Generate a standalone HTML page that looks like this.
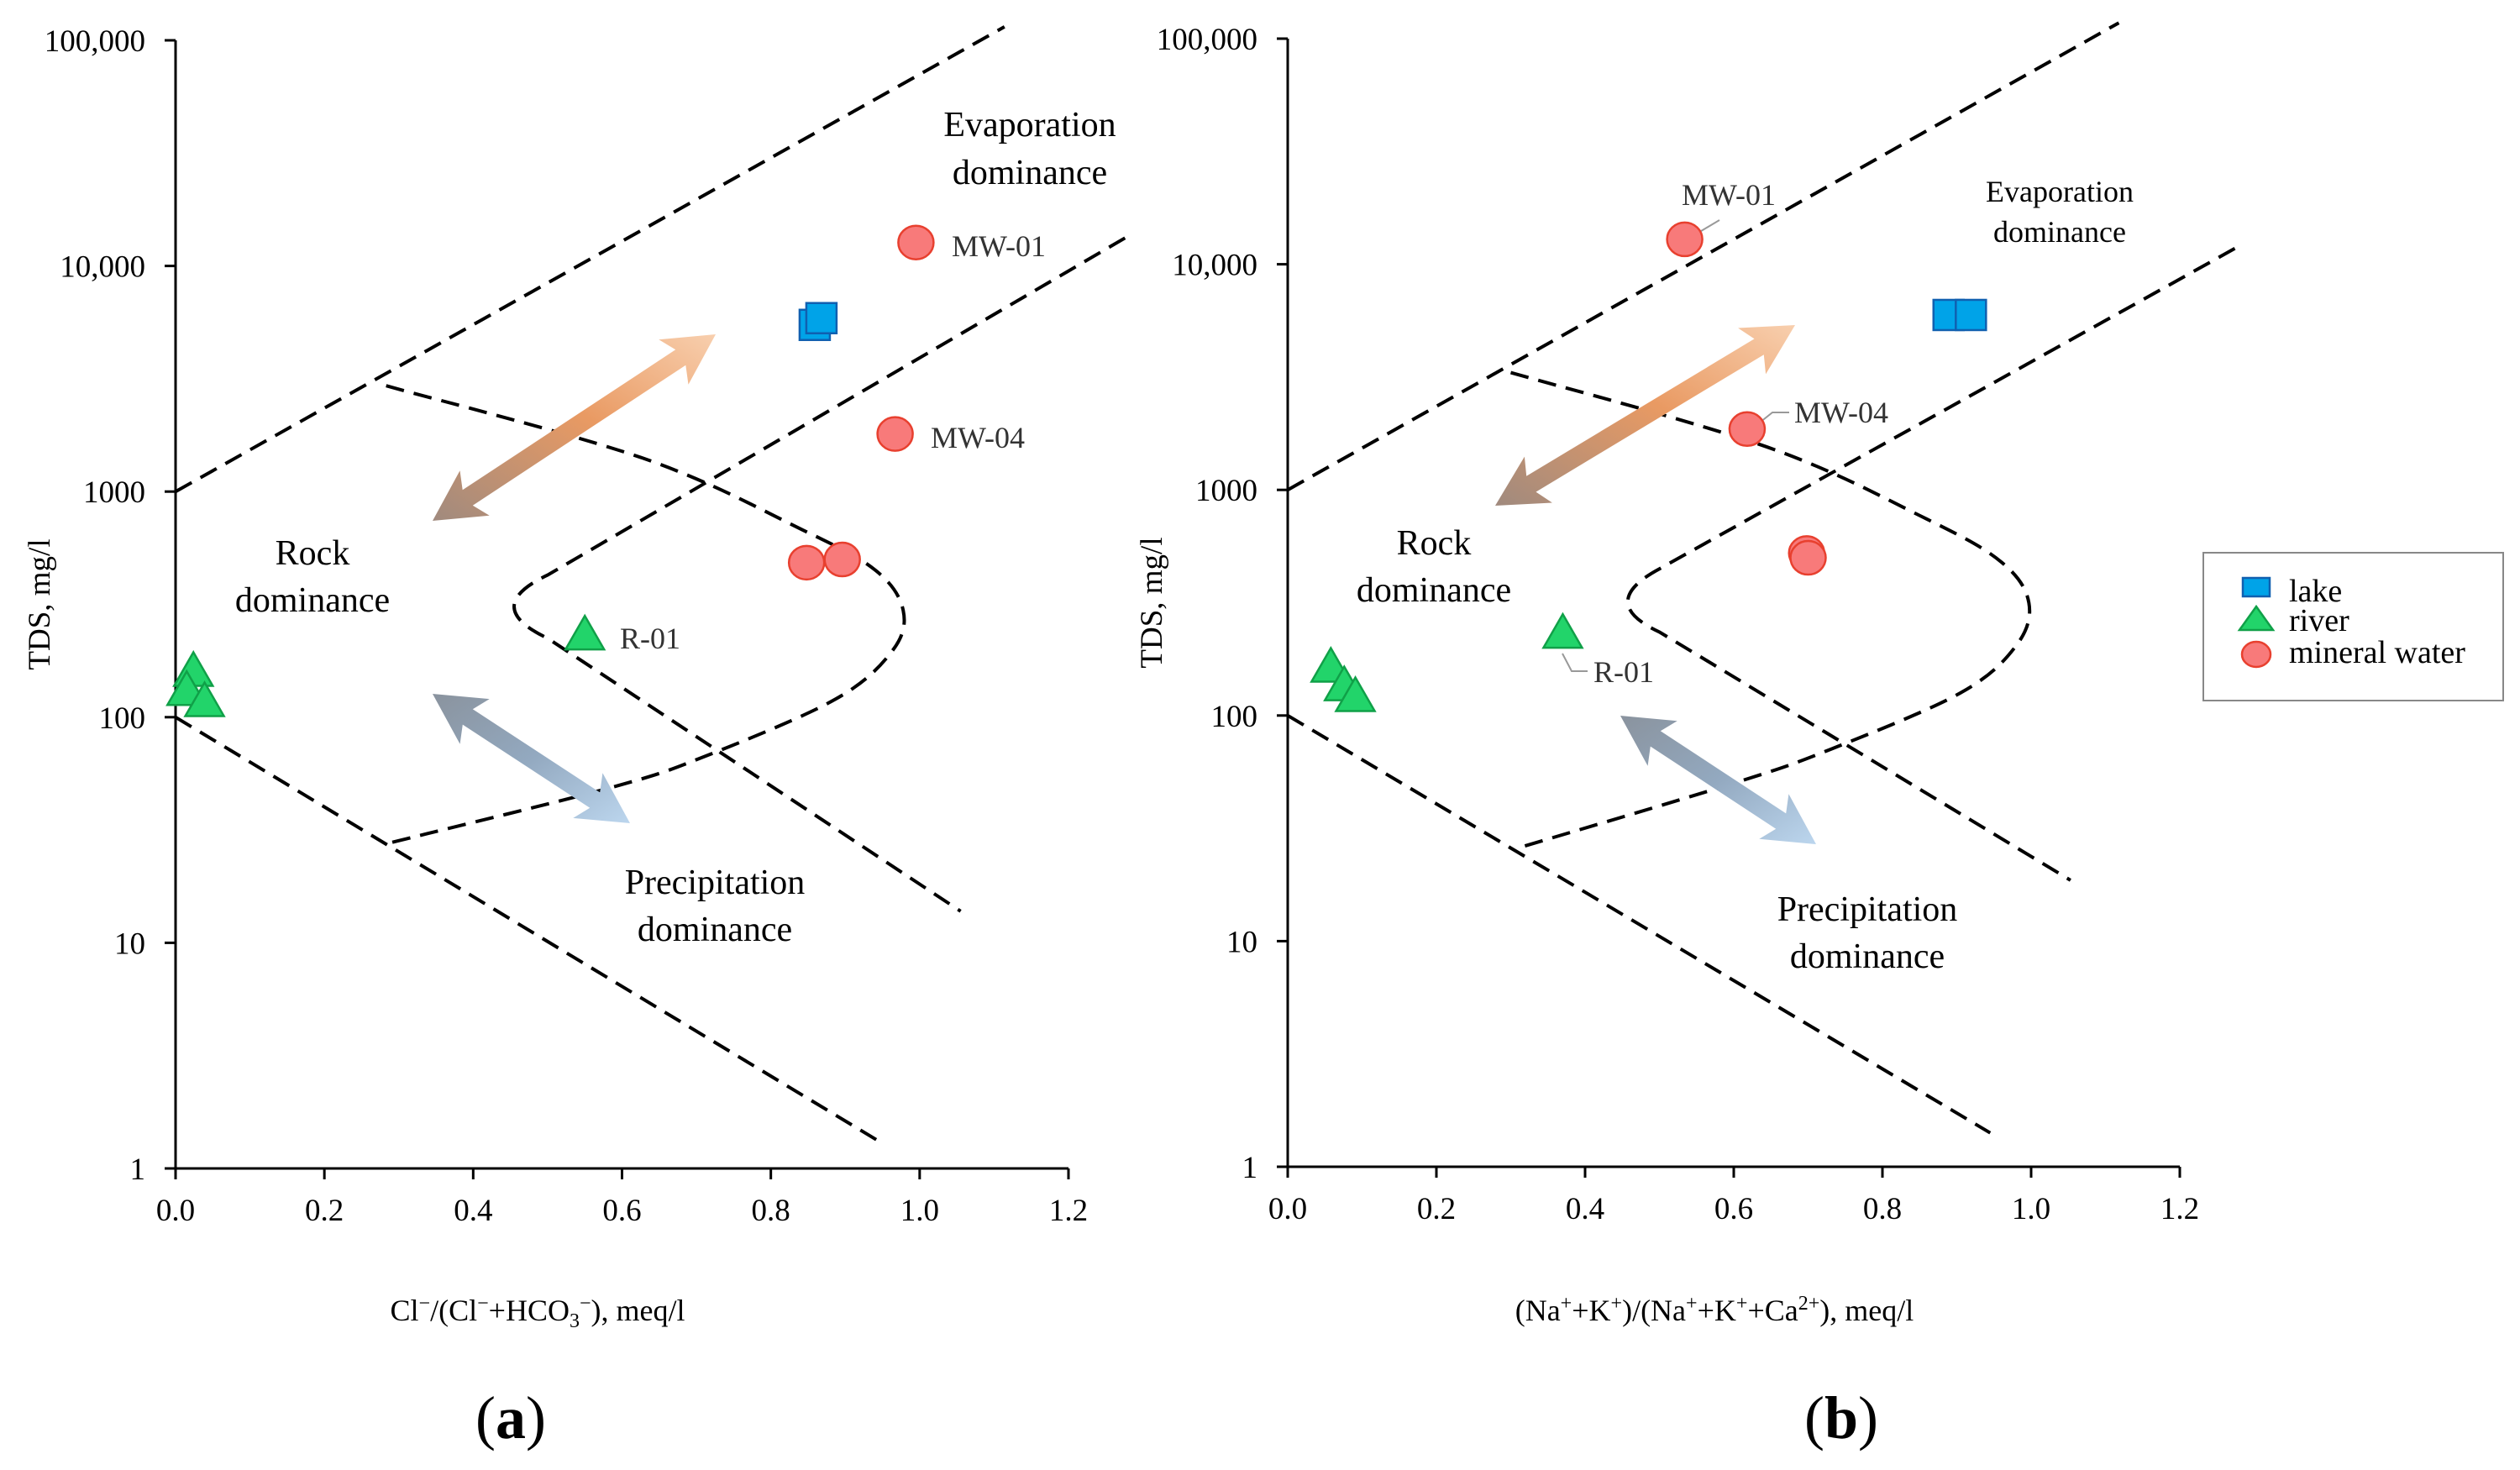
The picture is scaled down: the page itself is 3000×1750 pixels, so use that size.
<!DOCTYPE html>
<html><head><meta charset="utf-8"><style>
body{margin:0;background:#fff}
svg{display:block;font-family:"Liberation Serif",serif}
</style></head><body>
<svg id="chart" width="3000" height="1750" viewBox="0 0 3000 1750" xmlns="http://www.w3.org/2000/svg">
<defs>
<linearGradient id="gOrange" x1="0" y1="1" x2="1" y2="0"><stop offset="0" stop-color="#a08a7e"/><stop offset="0.55" stop-color="#e99a63"/><stop offset="1" stop-color="#f8cfae"/></linearGradient>
<linearGradient id="gBlue" x1="0" y1="0" x2="1" y2="1"><stop offset="0" stop-color="#8a939e"/><stop offset="0.5" stop-color="#93a9c0"/><stop offset="1" stop-color="#bcd6ee"/></linearGradient>
</defs>
</svg>
<script>
// ----- data -----
const yTicks=[1,10,100,1000,10000,100000];
const yTickLabels=["1","10","100","1000","10,000","100,000"];
const xTicks=[0,0.2,0.4,0.6,0.8,1.0,1.2];
const xTickLabels=["0.0","0.2","0.4","0.6","0.8","1.0","1.2"];
// panel a
const aLakeX=[0.859,0.868], aLakeY=[5480,5870];
const aRiverX=[0.024,0.015,0.039,0.55], aRiverY=[158,130,116,229];
const aMinX=[0.995,0.967,0.848,0.896], aMinY=[12700,1800,484,500];
// panel b
const bLakeX=[0.889,0.919], bLakeY=[5960,5960];
const bRiverX=[0.058,0.076,0.091,0.37], bRiverY=[162,134,120,229];
const bMinX=[0.534,0.618,0.698,0.70], bMinY=[12900,1860,525,500];
// boundary curves (x, log10 TDS)
const aUpper=[[0,3.0],[1.114,5.06]];
const aLowerLeft=[[0,2.0],[0.945,0.121]];
const aCurve=[[0.283,3.469],[0.628,3.148],[0.844,2.828],[0.941,2.65],[0.978,2.472],[0.963,2.293],[0.887,2.08],[0.714,1.83],[0.585,1.688],[0.283,1.439]];
const aInner=[[1.276,4.124],[0.50,2.63],[0.41,2.49],[0.50,2.35],[1.055,1.14]];
const bUpper=[[0,3.0],[1.118,5.07]];
const bLowerLeft=[[0,2.0],[0.945,0.15]];
const bCurve=[[0.30,3.52],[0.645,3.19],[0.86,2.87],[0.96,2.68],[0.997,2.5],[0.98,2.31],[0.905,2.1],[0.73,1.85],[0.6,1.7],[0.307,1.41]];
const bInner=[[1.274,4.07],[0.50,2.65],[0.415,2.5],[0.50,2.37],[1.053,1.27]];

const svg=document.getElementById('chart');
const NS='http://www.w3.org/2000/svg';
function mk(tag,attrs,parent){const e=document.createElementNS(NS,tag);for(const k in attrs)e.setAttribute(k,attrs[k]);(parent||svg).appendChild(e);return e;}

function panel(id,x0,x1,y0,y1){
  const X=v=>x0+v/1.2*(x1-x0);
  const Y=v=>y0+(5-Math.log10(v))*(y1-y0)/5;
  const YL=l=>y0+(5-l)*(y1-y0)/5;
  const g=mk('g',{});
  
  
  const ax=mk('path',{d:`M${x0} ${y0}V${y1}H${x1}`,stroke:'#000','stroke-width':3,fill:'none'},g);
  
  
  yTicks.forEach((t,i)=>{
    mk('line',{x1:x0-13,x2:x0,y1:Y(t),y2:Y(t),stroke:'#000','stroke-width':3},g);
    const tx=mk('text',{x:x0-36,y:Y(t)+13,'text-anchor':'end','font-size':37},g);
    tx.textContent=yTickLabels[i];
    
    
  });
  xTicks.forEach((t,i)=>{
    mk('line',{x1:X(t),x2:X(t),y1:y1,y2:y1+13,stroke:'#000','stroke-width':3},g);
    const tx=mk('text',{x:X(t),y:y1+62,'text-anchor':'middle','font-size':37},g);
    tx.textContent=xTickLabels[i];
    
    
  });
  const yt=mk('text',{transform:`translate(${x0-150},${(y0+y1)/2}) rotate(-90)`,'text-anchor':'middle','font-size':37},g);
  yt.textContent='TDS, mg/l';
  
  
  const line=(pts,name)=>{
    const p=mk('path',{d:pts.map((q,i)=>(i?'L':'M')+X(q[0]).toFixed(1)+' '+YL(q[1]).toFixed(1)).join(''),fill:'none',stroke:'#000','stroke-width':4,'stroke-dasharray':'22 12','stroke-linejoin':'round'},g);
    
    
  };
  const nose=(pts,name)=>{
    const P=pts.map(q=>[X(q[0]).toFixed(1),YL(q[1]).toFixed(1)]);
    const d=`M${P[0]}L${P[1]}Q${P[2]} ${P[3]}L${P[4]}`.replace(/,/g,' ');
    const p=mk('path',{d:`M${P[0][0]} ${P[0][1]}L${P[1][0]} ${P[1][1]}Q${P[2][0]} ${P[2][1]} ${P[3][0]} ${P[3][1]}L${P[4][0]} ${P[4][1]}`,fill:'none',stroke:'#000','stroke-width':4,'stroke-dasharray':'22 12'},g);
    
    
  };
  const smooth=(pts,name)=>{
    let d='M'+X(pts[0][0])+' '+YL(pts[0][1]);
    const P=pts.map(q=>[X(q[0]),YL(q[1])]);
    for(let i=0;i<P.length-1;i++){
      const p0=P[i-1]||P[i],p1=P[i],p2=P[i+1],p3=P[i+2]||P[i+1];
      const c1=[p1[0]+(p2[0]-p0[0])/6,p1[1]+(p2[1]-p0[1])/6],c2=[p2[0]-(p3[0]-p1[0])/6,p2[1]-(p3[1]-p1[1])/6];
      d+=`C${c1[0].toFixed(1)} ${c1[1].toFixed(1)} ${c2[0].toFixed(1)} ${c2[1].toFixed(1)} ${p2[0].toFixed(1)} ${p2[1].toFixed(1)}`;
    }
    const p=mk('path',{d,fill:'none',stroke:'#000','stroke-width':4,'stroke-dasharray':'22 12'},g);
    
    
  };
  return {X,Y,g,line,smooth,nose};
}
function arrow(g,xA,yA,xB,yB,fill,name){
  const dx=xB-xA,dy=yB-yA,L=Math.hypot(dx,dy),ux=dx/L,uy=dy/L,nx=-uy,ny=ux;
  const hw=11,hl=60,hh=32;
  const P=(a,b)=>[xA+ux*a+nx*b,yA+uy*a+ny*b].map(v=>v.toFixed(1)).join(',');
  const pts=[P(0,0),P(hl,hh),P(hl-10,hw),P(L-hl+10,hw),P(L-hl,hh),P(L,0),P(L-hl,-hh),P(L-hl+10,-hw),P(hl-10,-hw),P(hl,-hh)];
  const e=mk('polygon',{points:pts.join(' '),fill},g);
  
  
}
function txt(g,x,y,s,size,name,anchor,fill){
  const t=mk('text',{x,y,'font-size':size,'text-anchor':anchor||'middle',fill:fill||'#000'},g);
  t.textContent=s;
  
  
  return t;
}
function markers(p,lx,ly,rx,ry,mx,my){
  lx.forEach((v,i)=>{const e=mk('rect',{x:p.X(v)-18,y:p.Y(ly[i])-18,width:36,height:36,fill:'#00a3e8',stroke:'#1060b0','stroke-width':2.5},p.g);
    
    });
  rx.forEach((v,i)=>{const cx=p.X(v),cy=p.Y(ry[i]);const e=mk('polygon',{points:`${cx},${cy-24} ${cx+23},${cy+16} ${cx-23},${cy+16}`,fill:'#22d46a',stroke:'#10a048','stroke-width':2.5},p.g);
    
    });
  mx.forEach((v,i)=>{const e=mk('ellipse',{cx:p.X(v),cy:p.Y(my[i]),rx:21,ry:20,fill:'#f87a7a',stroke:'#e8402f','stroke-width':2.5},p.g);
    
    });
}

// ----- panel a -----
const A=panel('panel-a',209,1272,48,1391);
A.line(aUpper,'evaporation-boundary');A.line(aLowerLeft,'precipitation-boundary');
A.smooth(aCurve,'gibbs-envelope');A.nose(aInner,'inner-boundary');
arrow(A.g,515,620,852,398,'url(#gOrange)','evaporation-arrow');
arrow(A.g,515,826,750,980,'url(#gBlue)','precipitation-arrow');
txt(A.g,1226,162,'Evaporation',42,'evaporation-label');txt(A.g,1226,219,'dominance',42,'evaporation-label');
txt(A.g,372,672,'Rock',42,'rock-label');txt(A.g,372,728,'dominance',42,'rock-label');
txt(A.g,851,1064,'Precipitation',42,'precipitation-label');txt(A.g,851,1120,'dominance',42,'precipitation-label');
markers(A,aLakeX,aLakeY,aRiverX,aRiverY,aMinX,aMinY);
txt(A.g,1133,305,'MW-01',36,'label-mw01','start','#333');
txt(A.g,1108,533,'MW-04',36,'label-mw04','start','#333');
txt(A.g,738,772,'R-01',36,'label-r01','start','#333');
const xa=txt(A.g,640,1572,'',36,'x-axis-title');
xa.innerHTML='Cl<tspan dy="-13" font-size="24">−</tspan><tspan dy="13">/(Cl</tspan><tspan dy="-13" font-size="24">−</tspan><tspan dy="13">+HCO</tspan><tspan dy="8" font-size="24">3</tspan><tspan dy="-21" font-size="24">−</tspan><tspan dy="13">), meq/l</tspan>';
const la=txt(A.g,608,1712,'',72,'panel-a-label');la.innerHTML='(<tspan font-weight="bold">a</tspan>)';

// ----- panel b -----
const B=panel('panel-b',1533,2595,46,1389);
B.line(bUpper,'evaporation-boundary');B.line(bLowerLeft,'precipitation-boundary');
B.smooth(bCurve,'gibbs-envelope');B.nose(bInner,'inner-boundary');
arrow(B.g,1780,602,2137,387,'url(#gOrange)','evaporation-arrow');
arrow(B.g,1929,852,2162,1005,'url(#gBlue)','precipitation-arrow');
txt(B.g,2452,240,'Evaporation',36,'evaporation-label');txt(B.g,2452,288,'dominance',36,'evaporation-label');
txt(B.g,1707,660,'Rock',42,'rock-label');txt(B.g,1707,716,'dominance',42,'rock-label');
txt(B.g,2223,1096,'Precipitation',42,'precipitation-label');txt(B.g,2223,1152,'dominance',42,'precipitation-label');
mk('polyline',{points:'2005,287 2047,262',fill:'none',stroke:'#999','stroke-width':2},B.g);
mk('polyline',{points:'2095,503 2110,491 2130,491',fill:'none',stroke:'#999','stroke-width':2},B.g);
mk('polyline',{points:'1860,778 1871,799 1890,799',fill:'none',stroke:'#999','stroke-width':2},B.g);
markers(B,bLakeX,bLakeY,bRiverX,bRiverY,bMinX,bMinY);
txt(B.g,2002,244,'MW-01',36,'label-mw01','start','#333');
txt(B.g,2136,503,'MW-04',36,'label-mw04','start','#333');
txt(B.g,1897,812,'R-01',36,'label-r01','start','#333');
const xb=txt(B.g,2041,1572,'',36,'x-axis-title');
xb.innerHTML='(Na<tspan dy="-13" font-size="24">+</tspan><tspan dy="13">+K</tspan><tspan dy="-13" font-size="24">+</tspan><tspan dy="13">)/(Na</tspan><tspan dy="-13" font-size="24">+</tspan><tspan dy="13">+K</tspan><tspan dy="-13" font-size="24">+</tspan><tspan dy="13">+Ca</tspan><tspan dy="-13" font-size="24">2+</tspan><tspan dy="13">), meq/l</tspan>';
const lb=txt(B.g,2192,1712,'',72,'panel-b-label');lb.innerHTML='(<tspan font-weight="bold">b</tspan>)';

// ----- legend -----
const lg=mk('g',{});


mk('rect',{x:2623,y:658,width:357,height:176,fill:'#fff',stroke:'#888','stroke-width':2},lg);
const e1=mk('rect',{x:2670,y:688,width:32,height:22,fill:'#00a3e8',stroke:'#1060b0','stroke-width':2.5},lg);

const e2=mk('polygon',{points:'2686,722 2706,750 2666,750',fill:'#22d46a',stroke:'#10a048','stroke-width':2.5},lg);

const e3=mk('ellipse',{cx:2686,cy:779,rx:17,ry:15,fill:'#f87a7a',stroke:'#e8402f','stroke-width':2.5},lg);

txt(lg,2725,716,'lake',38,'legend-label','start');
txt(lg,2725,751,'river',38,'legend-label','start');
txt(lg,2725,789,'mineral water',38,'legend-label','start');
</script>
</body></html>
